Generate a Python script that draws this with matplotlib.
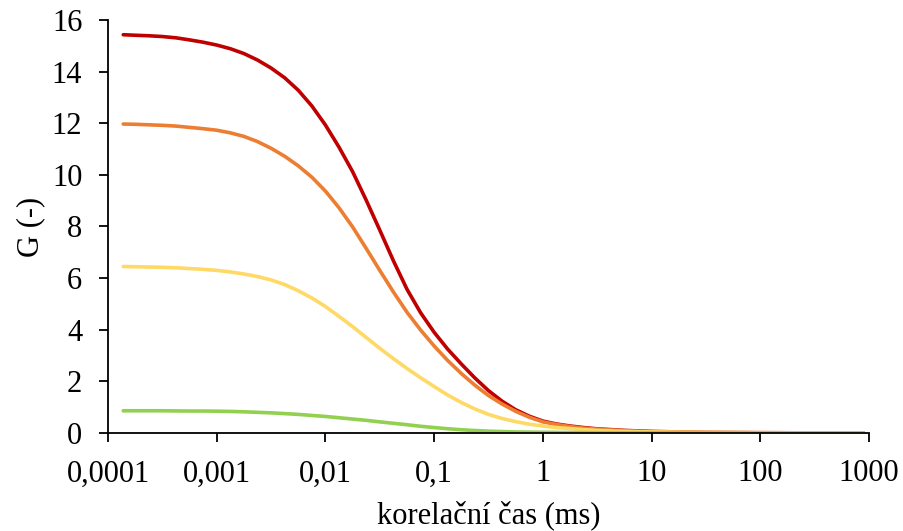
import matplotlib
matplotlib.use("Agg")
import matplotlib.pyplot as plt
from matplotlib.ticker import FixedLocator, FixedFormatter, NullLocator

tau = [0.000138, 0.000178, 0.000237, 0.000316, 0.000422, 0.000562, 0.00075,
       0.001, 0.00133, 0.00178, 0.00237, 0.00316, 0.00422, 0.00562, 0.0075,
       0.01, 0.0133, 0.0178, 0.0237, 0.0316, 0.0422, 0.0562, 0.075,
       0.1, 0.133, 0.178, 0.237, 0.316, 0.422, 0.562, 0.75,
       1, 1.33, 1.78, 2.37, 3.16, 5.62, 10, 31.6, 100, 890]

# G (-) for the four curves
g_red = [15.43, 15.41, 15.39, 15.36, 15.31, 15.23, 15.14,
         15.03, 14.89, 14.70, 14.45, 14.14, 13.76, 13.28, 12.67,
         11.93, 11.08, 10.12, 9.02, 7.86, 6.67, 5.57, 4.66,
         3.9, 3.25, 2.67, 2.13, 1.64, 1.23, 0.9, 0.65,
         0.46, 0.35, 0.27, 0.21, 0.16, 0.10, 0.06, 0.02, 0.01, 0.0]
g_orange = [11.97, 11.96, 11.94, 11.92, 11.89, 11.84, 11.79,
            11.73, 11.63, 11.49, 11.29, 11.03, 10.72, 10.35, 9.91,
            9.37, 8.73, 7.98, 7.15, 6.3, 5.46, 4.68, 3.99,
            3.37, 2.81, 2.3, 1.85, 1.45, 1.12, 0.84, 0.61,
            0.43, 0.33, 0.25, 0.19, 0.15, 0.09, 0.05, 0.02, 0.01, 0.0]
g_yellow = [6.45, 6.44, 6.43, 6.42, 6.40, 6.37, 6.34,
            6.30, 6.24, 6.16, 6.06, 5.93, 5.75, 5.51, 5.23,
            4.9, 4.52, 4.12, 3.7, 3.28, 2.88, 2.5, 2.14,
            1.8, 1.47, 1.18, 0.93, 0.72, 0.56, 0.44, 0.34,
            0.27, 0.21, 0.17, 0.13, 0.10, 0.06, 0.04, 0.02, 0.01, 0.0]
g_green = [0.86, 0.86, 0.86, 0.86, 0.855, 0.85, 0.85,
           0.845, 0.835, 0.82, 0.80, 0.78, 0.75, 0.72, 0.68,
           0.64, 0.59, 0.54, 0.49, 0.43, 0.375, 0.32, 0.26,
           0.21, 0.165, 0.125, 0.095, 0.07, 0.055, 0.04, 0.033,
           0.027, 0.022, 0.018, 0.015, 0.012, 0.009, 0.007, 0.004, 0.002, 0.0]

x_ticks = [0.0001, 0.001, 0.01, 0.1, 1, 10, 100, 1000]
x_labels = ["0,0001", "0,001", "0,01", "0,1", "1", "10", "100", "1000"]
y_ticks = [0, 2, 4, 6, 8, 10, 12, 14, 16]

plt.rcParams['font.family'] = ['Liberation Serif', 'DejaVu Serif']

fig = plt.figure(figsize=(9.04, 5.31), dpi=100)
ax = fig.add_axes([0.1195, 0.1846, 0.8418, 0.7777])

ax.plot(tau, g_red, color="#C00000", lw=2.6, solid_capstyle="round")
ax.plot(tau, g_orange, color="#ED7D31", lw=2.6, solid_capstyle="round")
ax.plot(tau, g_yellow, color="#FFD966", lw=2.6, solid_capstyle="round")
ax.plot(tau, g_green, color="#92D050", lw=2.6, solid_capstyle="round")

ax.set_xscale("log")
ax.set_xlim(0.0001, 1000)
ax.set_ylim(0, 16)
ax.xaxis.set_major_locator(FixedLocator(x_ticks))
ax.xaxis.set_major_formatter(FixedFormatter(x_labels))
ax.xaxis.set_minor_locator(NullLocator())
ax.set_yticks(y_ticks)

for s in ["top", "right"]:
    ax.spines[s].set_visible(False)
for s in ["left", "bottom"]:
    ax.spines[s].set_linewidth(1.3)

ax.tick_params(axis="both", direction="out", length=6.5, width=1.3,
               labelsize=22, colors="black")
ax.tick_params(axis="y", pad=12)
ax.tick_params(axis="x", pad=12.5)

ax.set_xlabel("korelační čas (ms)", fontsize=22, labelpad=9)
ax.set_ylabel("G (-)", fontsize=22, labelpad=5)

fig.savefig("out.png", dpi=100)
